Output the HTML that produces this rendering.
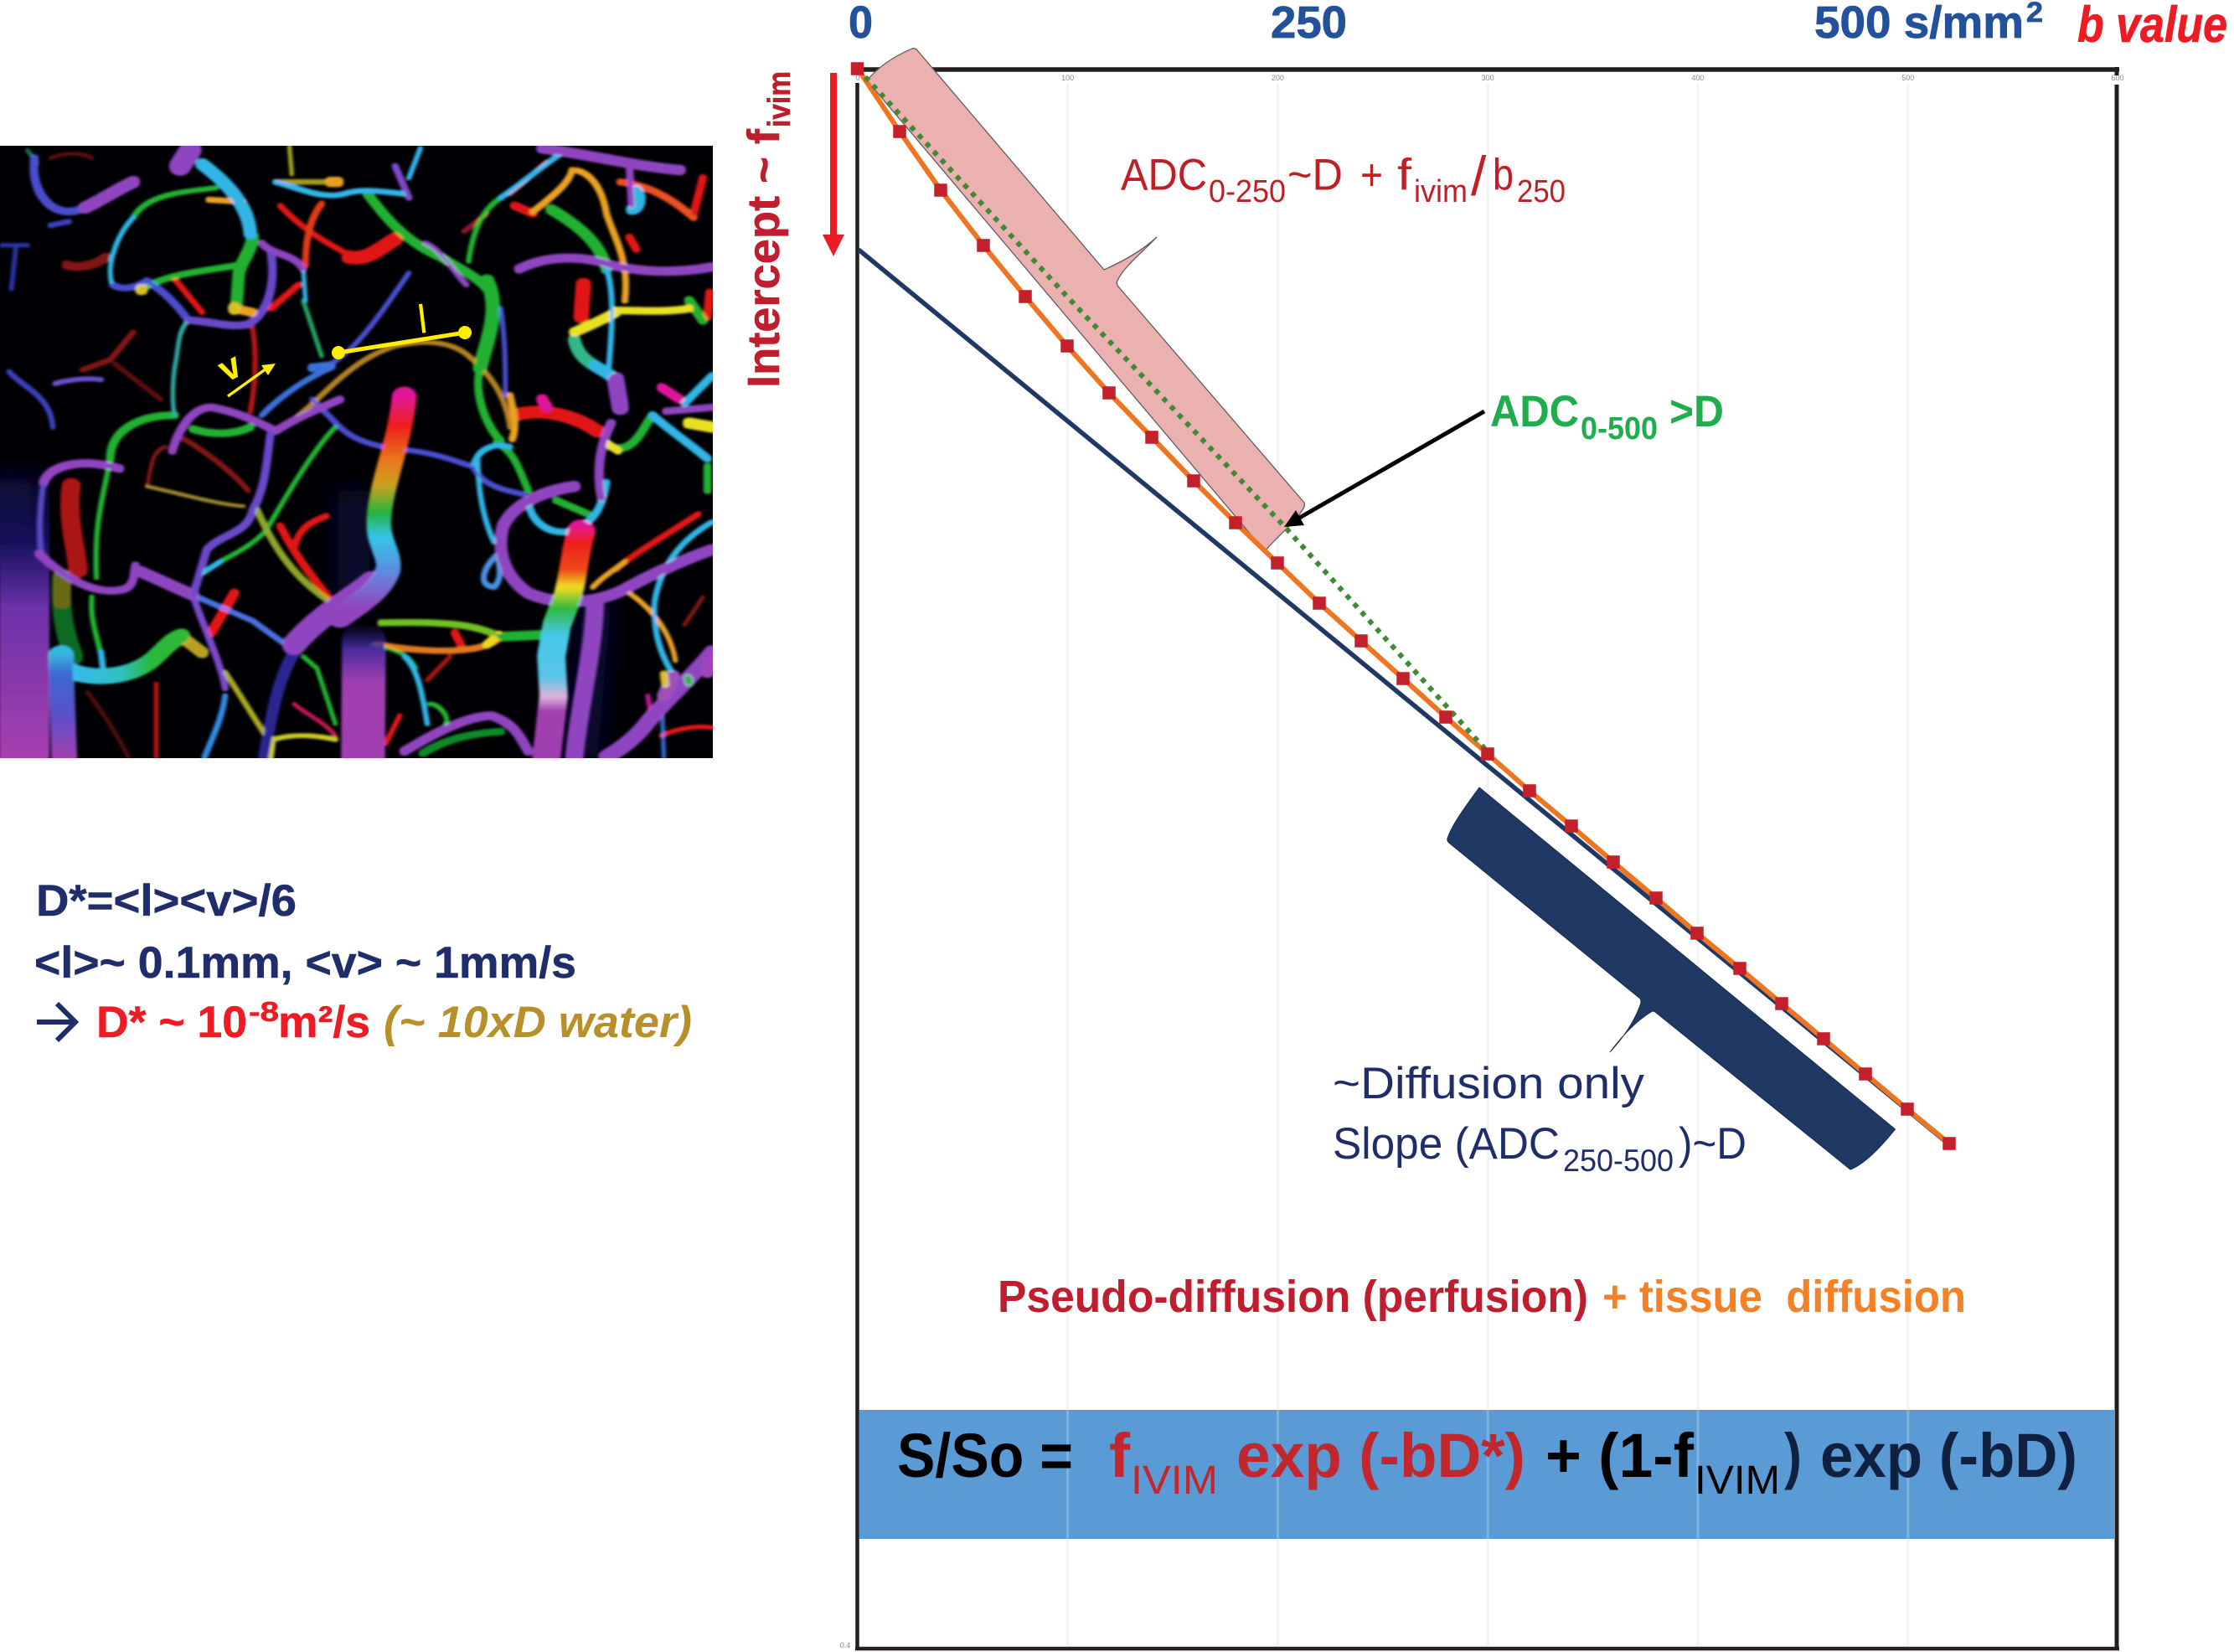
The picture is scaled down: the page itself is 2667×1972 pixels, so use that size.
<!DOCTYPE html>
<html><head><meta charset="utf-8"><style>
html,body{margin:0;padding:0;background:#fff}
svg{display:block}
text{font-family:"Liberation Sans",sans-serif}
</style></head><body>
<svg width="2667" height="1972" viewBox="0 0 2667 1972" xmlns="http://www.w3.org/2000/svg">
<defs>
<clipPath id="ic"><rect x="0" y="174" width="851" height="731"/></clipPath>
<filter id="bl" filterUnits="userSpaceOnUse" x="-20" y="-20" width="1640" height="1640"><feMorphology operator="dilate" radius="2.2"/><feGaussianBlur stdDeviation="2.8"/></filter>
<filter id="hz" filterUnits="userSpaceOnUse" x="-60" y="-60" width="1720" height="1720"><feGaussianBlur stdDeviation="26"/></filter>
<linearGradient id="lg" gradientUnits="userSpaceOnUse" x1="0" y1="800" x2="0" y2="1555"><stop offset="0" stop-color="#14105a" stop-opacity="0"/><stop offset=".28" stop-color="#14105a"/><stop offset=".5" stop-color="#6b31a8"/><stop offset="1" stop-color="#a63fae"/></linearGradient>
<linearGradient id="cv" gradientUnits="userSpaceOnUse" x1="0" y1="640" x2="0" y2="1270"><stop offset="0" stop-color="#e0189a"/><stop offset=".12" stop-color="#ee1c1c"/><stop offset=".26" stop-color="#e8751a"/><stop offset=".36" stop-color="#c8a020"/><stop offset=".47" stop-color="#22b33a"/><stop offset=".57" stop-color="#35c4e8"/><stop offset=".7" stop-color="#5a8ce0"/><stop offset=".85" stop-color="#9144bd"/><stop offset="1" stop-color="#9144bd"/></linearGradient>
<linearGradient id="rv" gradientUnits="userSpaceOnUse" x1="0" y1="965" x2="0" y2="1555"><stop offset="0" stop-color="#e0189a"/><stop offset=".08" stop-color="#ee1c1c"/><stop offset=".2" stop-color="#ee4a1c"/><stop offset=".27" stop-color="#f0d820"/><stop offset=".36" stop-color="#30b838"/><stop offset=".48" stop-color="#45c8e8"/><stop offset=".66" stop-color="#58c4e8"/><stop offset=".74" stop-color="#d8b0d8"/><stop offset=".8" stop-color="#a03fb0"/><stop offset="1" stop-color="#a03fb0"/></linearGradient>
<linearGradient id="lb" gradientUnits="userSpaceOnUse" x1="0" y1="1290" x2="0" y2="1555"><stop offset="0" stop-color="#35b8e0"/><stop offset=".2" stop-color="#3a68d0"/><stop offset=".6" stop-color="#5a50c8"/><stop offset="1" stop-color="#a03fb0"/></linearGradient>
<linearGradient id="bt" gradientUnits="userSpaceOnUse" x1="0" y1="1215" x2="0" y2="1555"><stop offset="0" stop-color="#1c1470" stop-opacity="0"/><stop offset=".2" stop-color="#4a2a9c"/><stop offset=".45" stop-color="#a03fb0"/><stop offset="1" stop-color="#a03fb0"/></linearGradient>
<linearGradient id="bc" gradientUnits="userSpaceOnUse" x1="150" y1="0" x2="400" y2="0"><stop offset="0" stop-color="#38b8f0"/><stop offset=".45" stop-color="#30c0c0"/><stop offset=".7" stop-color="#28b840"/><stop offset="1" stop-color="#30b830"/></linearGradient>
</defs>

<!-- microvessel picture -->
<rect x="0" y="174" width="851" height="731" fill="#000004"/>
<g clip-path="url(#ic)">
<g transform="translate(0,170) scale(.5485,.472)" fill="none">
<path d="M770,880 L770,1170" stroke="#0c0c48" stroke-width="70" stroke-opacity=".7" filter="url(#hz)"/>
<path d="M1300,1160 L1270,1555" stroke="#14105a" stroke-width="60" stroke-opacity=".7" filter="url(#hz)"/>
<path d="M20,850 L20,1100" stroke="#100c50" stroke-width="90" stroke-opacity=".6" filter="url(#hz)"/>
</g>
<g transform="translate(0,170) scale(.5485,.472)" fill="none" stroke-linecap="round" stroke-linejoin="round" filter="url(#bl)">
<rect x="0" y="800" width="106" height="760" fill="url(#lg)" stroke="none"/>
<!-- dim red -->
<g stroke="#801414">
<path d="M145,310 C170,320 210,310 230,290" stroke-width="18"/>
<path d="M290,480 L240,550 L180,575" stroke-width="9"/>
<path d="M250,560 L350,650" stroke-width="7" stroke="#5a1010"/>
<path d="M320,870 C330,820 330,780 360,770" stroke-width="5"/>
<path d="M400,750 C460,790 510,840 540,880" stroke-width="8"/>
<path d="M190,1390 C230,1450 260,1510 280,1555" stroke-width="5" stroke="#501010"/>
<path d="M110,40 C140,25 180,25 200,40" stroke-width="5" stroke="#5a1010"/>
<path d="M1490,1220 L1530,1150" stroke-width="5"/>
</g>
<path d="M320,870 C400,890 470,915 530,920" stroke="#9a8030" stroke-width="5"/>
<path d="M155,870 C145,950 165,1020 170,1080" stroke="#aa1616" stroke-width="38"/>
<path d="M135,1100 C130,1180 140,1240 160,1300" stroke="#0d6a20" stroke-width="38"/>
<path d="M135,1100 L135,1160" stroke="#6a6a18" stroke-width="34"/>
<!-- red vessels -->
<g stroke="#e01818">
<path d="M610,160 C650,210 700,250 770,290" stroke-width="9"/>
<path d="M760,290 C800,300 830,265 860,245" stroke-width="30"/>
<path d="M700,155 C670,200 665,260 665,310" stroke-width="11" stroke="#e03a18"/>
<path d="M380,345 L440,430" stroke-width="9"/>
<path d="M590,420 L650,360" stroke-width="11"/>
<path d="M550,470 C560,540 555,620 545,680" stroke-width="8" stroke="#b01818"/>
<path d="M610,970 C640,1040 680,1100 715,1150" stroke-width="13"/>
<path d="M640,1030 C650,970 680,960 710,945" stroke-width="11"/>
<path d="M510,1140 L460,1240" stroke-width="18"/>
<path d="M340,1370 L340,1555" stroke-width="7" stroke="#b01818"/>
<path d="M1120,690 C1180,670 1250,690 1300,730" stroke-width="28"/>
<path d="M1120,160 L1160,180" stroke-width="16"/>
<path d="M1270,360 L1265,440" stroke-width="30"/>
<path d="M1440,620 L1480,650" stroke-width="18" stroke="#e0189a"/>
<path d="M1545,380 L1540,440" stroke-width="16"/>
<path d="M1520,940 C1440,1000 1380,1040 1340,1080" stroke-width="10"/>
<path d="M1440,1500 C1480,1480 1520,1475 1550,1480" stroke-width="7"/>
<path d="M1410,1400 L1420,1470" stroke-width="7" stroke="#c0188a"/>
<path d="M930,1360 L980,1300" stroke-width="6" stroke="#a01818"/>
<path d="M870,1450 L840,1520" stroke-width="7"/>
<path d="M990,1240 L1005,1275" stroke-width="14"/>
<path d="M640,1420 C670,1450 700,1460 730,1500" stroke-width="5" stroke="#c01850"/>
<path d="M1350,100 C1420,110 1470,150 1510,190" stroke-width="13" stroke="#e85020"/>
<path d="M1530,90 L1510,180" stroke-width="14"/>
<path d="M1370,240 L1385,270" stroke-width="14"/>
<path d="M1180,650 L1190,670" stroke-width="22" stroke="#e0189a"/>
<path d="M1010,225 L1060,180" stroke-width="7" stroke="#901830"/>
<path d="M1110,130 L1190,50" stroke-width="8" stroke="#a01818"/>
</g>
<!-- orange / yellow thin -->
<g stroke="#e8a020">
<path d="M640,700 C700,650 760,550 860,515 C920,500 980,500 1020,540 C1070,590 1100,640 1110,720" stroke-width="8" stroke="#b08020"/>
<path d="M1110,640 C1120,690 1125,720 1115,750" stroke-width="12"/>
<path d="M455,145 L530,150" stroke-width="11"/>
<path d="M600,100 L730,100" stroke-width="10" stroke="#a09a20"/>
<path d="M720,100 L735,100" stroke-width="22"/>
<path d="M1160,175 C1210,130 1240,100 1245,70 C1280,70 1310,110 1320,180 C1340,250 1370,300 1360,400" stroke-width="11"/>
<path d="M1370,1140 C1420,1180 1460,1240 1470,1310" stroke-width="7"/>
<path d="M1290,1125 C1320,1090 1340,1080 1360,1060" stroke-width="8"/>
<path d="M1085,1255 C1050,1290 950,1295 820,1270" stroke-width="12" stroke="#e07820"/>
<path d="M1060,1270 L1085,1245" stroke-width="16" stroke="#e8d820"/>
<path d="M510,420 L550,430" stroke-width="18"/>
<path d="M395,1250 L440,1290" stroke-width="24" stroke="#b8a020"/>
<path d="M630,10 L635,80" stroke-width="6" stroke="#a0a020"/>
<path d="M490,1340 C530,1410 560,1470 590,1520" stroke-width="8" stroke="#a8a820"/>
<path d="M590,1555 L595,1510 C640,1495 690,1500 730,1510" stroke-width="8" stroke="#c8c820"/>
<path d="M560,930 C590,1010 630,1090 710,1155" stroke-width="11" stroke="#8ca428"/>
</g>
<!-- greens -->
<g stroke="#22b030">
<path d="M800,130 C840,190 880,250 960,290 C1000,320 1040,340 1060,370" stroke-width="18"/>
<path d="M1060,350 C1090,420 1060,500 1045,570" stroke-width="28"/>
<path d="M1045,570 C1030,640 1060,720 1090,755" stroke-width="14"/>
<path d="M550,240 C545,280 525,300 520,330 L515,410" stroke-width="24"/>
<path d="M470,115 C400,125 320,130 290,190" stroke-width="9"/>
<path d="M310,370 C370,330 450,325 520,310" stroke-width="12"/>
<path d="M240,800 C240,730 300,690 380,690" stroke-width="15"/>
<path d="M240,800 C225,900 205,950 210,1100" stroke-width="8"/>
<path d="M200,1150 C195,1220 220,1270 225,1330" stroke-width="8"/>
<path d="M420,725 C460,740 510,740 545,720" stroke-width="15"/>
<path d="M730,720 C680,780 620,900 580,980 C550,1020 510,1040 480,1060" stroke-width="7"/>
<path d="M1020,300 C1030,220 1050,170 1090,140" stroke-width="8"/>
<path d="M1200,170 C1260,210 1310,260 1320,320" stroke-width="22"/>
<path d="M1080,760 C1120,780 1130,830 1150,880" stroke-width="12"/>
<path d="M1210,905 L1280,940" stroke-width="13"/>
<path d="M1330,770 C1380,790 1400,720 1420,690" stroke-width="15"/>
<path d="M1540,820 L1540,880" stroke-width="14"/>
<path d="M1500,400 L1530,450" stroke-width="18"/>
<path d="M1190,1245 L1090,1250 C1040,1225 1000,1210 830,1215" stroke-width="13" stroke="#70c020"/>
<path d="M1190,1245 L1090,1250" stroke-width="20"/>
<path d="M660,1300 L690,1330 L730,1470" stroke-width="6"/>
<path d="M810,1270 C860,1280 890,1295 905,1330" stroke-width="6"/>
<path d="M935,1420 C960,1420 980,1460 970,1470" stroke-width="7"/>
<path d="M920,1545 C970,1510 1020,1495 1090,1490" stroke-width="14" stroke="#108a28"/>
<path d="M60,20 C70,40 90,50 75,60" stroke-width="5" stroke="#187050"/>
</g>
<!-- yellow -->
<g stroke="#e8e020">
<path d="M1340,425 C1400,425 1450,430 1500,420" stroke-width="15"/>
<path d="M1340,430 C1310,450 1270,470 1250,480" stroke-width="20"/>
<path d="M1500,710 L1550,720" stroke-width="24"/>
<path d="M1320,760 L1345,780" stroke-width="14"/>
</g>
<!-- cyans -->
<g stroke="#30b4e4">
<path d="M440,55 C480,90 540,150 545,230" stroke-width="26"/>
<path d="M290,190 C250,240 230,320 245,360" stroke-width="7"/>
<path d="M600,100 C650,115 700,145 750,130 C790,115 830,125 880,130" stroke-width="10"/>
<path d="M410,450 C385,480 390,520 380,570 C375,620 375,660 380,690" stroke-width="6" stroke="#30a8a0"/>
<path d="M660,400 L700,540" stroke-width="6" stroke="#28a060"/>
<path d="M660,320 L665,400" stroke-width="6"/>
<path d="M1090,140 C1140,100 1180,60 1225,25" stroke-width="9"/>
<path d="M1320,320 C1340,380 1330,500 1325,570" stroke-width="9"/>
<path d="M1250,500 C1260,550 1290,560 1330,590" stroke-width="24" stroke="#30b888"/>
<path d="M1295,565 L1330,590" stroke-width="24"/>
<path d="M1385,120 C1400,140 1390,170 1375,170" stroke-width="22"/>
<path d="M1420,690 C1460,730 1510,770 1540,800" stroke-width="15"/>
<path d="M1490,660 L1550,590" stroke-width="14"/>
<path d="M1030,820 C1040,770 1080,760 1110,770" stroke-width="10"/>
<path d="M1040,800 C1040,870 1050,950 1075,1010" stroke-width="8"/>
<path d="M1150,900 C1150,960 1200,1000 1250,980 C1290,960 1310,930 1320,860" stroke-width="13"/>
<path d="M1550,960 C1490,1000 1440,1060 1425,1160 C1420,1240 1440,1300 1465,1345" stroke-width="9"/>
<path d="M880,1300 C910,1330 920,1400 930,1470" stroke-width="8"/>
<path d="M440,1090 L480,1060" stroke-width="8"/>
<path d="M915,15 L890,90" stroke-width="7"/>
<path d="M220,1290 L225,1340" stroke-width="10"/>
<path d="M490,1400 C485,1450 465,1500 445,1555" stroke-width="9" stroke="#3088e0"/>
<path d="M1440,1400 L1445,1555" stroke-width="6" stroke="#3068c8"/>
</g>
<path d="M150,1335 C200,1360 280,1355 330,1310 C360,1280 370,1260 395,1250" stroke="url(#bc)" stroke-width="36"/>
<path d="M133,1300 L135,1400 L140,1555" stroke="url(#lb)" stroke-width="52"/>
<!-- blue / purple network -->
<g stroke="#4a4ecc">
<path d="M75,40 C70,90 80,130 110,160 C135,180 160,178 185,165" stroke-width="15"/>
<path d="M320,350 C355,375 385,410 410,450" stroke-width="13"/>
<path d="M245,360 C265,375 295,368 320,350" stroke-width="12"/>
<path d="M570,690 C620,630 680,590 720,570" stroke-width="9" stroke="#3a70d8"/>
<path d="M680,570 L720,565" stroke-width="18" stroke="#3a70d8"/>
<path d="M720,560 C780,520 830,430 890,330" stroke-width="7"/>
<path d="M680,650 L740,720 C780,765 850,775 900,780 C960,790 1000,810 1030,820" stroke-width="9"/>
<path d="M420,1145 L550,1210 L640,1285" stroke-width="9" stroke="#4a70e0"/>
<path d="M1030,820 C1050,870 1100,880 1140,890" stroke-width="9"/>
<path d="M1080,1045 C1050,1080 1040,1120 1075,1125 C1095,1105 1085,1070 1085,1050" stroke-width="9" stroke="#4a90e0"/>
<path d="M1090,420 C1100,500 1100,570 1100,640" stroke-width="7"/>
<path d="M20,580 C50,620 110,640 115,720" stroke-width="8" stroke="#3a40b8"/>
<path d="M120,610 C150,600 190,595 220,600" stroke-width="8" stroke="#6a50c8"/>
<path d="M5,260 L60,260 M35,260 L25,370" stroke-width="7" stroke="#2a30a0"/>
<path d="M110,210 L150,200" stroke-width="9" stroke="#3a40b8"/>
<path d="M640,1290 C600,1370 590,1460 575,1555" stroke-width="22" stroke="#2a2590"/>
</g>
<g stroke="#8f45c0">
<path d="M185,165 C215,150 245,125 290,100" stroke-width="26"/>
<path d="M392,60 L415,18" stroke-width="44"/>
<path d="M570,255 C590,285 640,280 660,320" stroke-width="13"/>
<path d="M590,280 C600,360 585,430 540,460 C500,470 450,450 410,450" stroke-width="15" stroke="#6a48c8"/>
<path d="M260,825 C190,800 110,810 95,860" stroke-width="17"/>
<path d="M95,860 C85,930 85,1000 90,1040" stroke-width="8" stroke="#5a48c8"/>
<path d="M85,1040 C130,1090 200,1150 270,1130 C295,1120 290,1090 295,1070" stroke-width="15"/>
<path d="M305,1085 L420,1145" stroke-width="24"/>
<path d="M420,1145 C440,1220 480,1310 490,1380" stroke-width="11" stroke="#7a48c8"/>
<path d="M375,780 C390,720 420,670 460,670 C510,680 550,700 600,730 C640,700 680,680 740,650" stroke-width="15"/>
<path d="M590,730 C580,800 580,870 550,930 C540,990 480,990 450,1030 C440,1070 430,1110 420,1145" stroke-width="14" stroke="#6a48c8"/>
<path d="M925,255 C960,270 990,330 1015,360" stroke-width="9"/>
<path d="M860,60 L890,140" stroke-width="11" stroke="#7a48c8"/>
<path d="M1180,15 C1280,30 1380,60 1480,70" stroke-width="22"/>
<path d="M1370,60 L1375,160" stroke-width="13"/>
<path d="M1130,320 C1200,280 1280,290 1330,310 C1400,330 1480,330 1550,315" stroke-width="19"/>
<path d="M1340,600 L1350,670" stroke-width="34"/>
<path d="M1330,710 C1300,780 1300,850 1310,900" stroke-width="17"/>
<path d="M1450,680 L1550,670" stroke-width="14"/>
<path d="M1250,870 C1190,880 1120,910 1095,970 C1080,1040 1100,1100 1150,1140 C1210,1170 1290,1170 1360,1130 C1420,1090 1500,1050 1550,1030" stroke-width="24"/>
<path d="M1550,1290 C1500,1360 1440,1420 1400,1480 C1370,1520 1340,1540 1320,1555" stroke-width="32"/>
<path d="M880,1540 C950,1490 1020,1450 1070,1450 C1120,1470 1130,1500 1150,1540" stroke-width="18"/>
<path d="M640,1270 C700,1190 770,1150 810,1110" stroke-width="48"/>
<path d="M1295,1170 C1290,1300 1260,1430 1250,1555" stroke-width="36"/>
</g>
<path d="M792,1260 L790,1600" stroke="url(#bt)" stroke-width="92"/>
<path d="M880,645 C870,760 830,860 825,950 C820,1010 850,1040 845,1080 C830,1130 790,1160 740,1200" stroke="url(#cv)" stroke-width="50"/>
<path d="M1265,985 C1250,1040 1250,1090 1235,1150 L1212,1220 L1200,1300 L1205,1400 L1185,1600" stroke="url(#rv)" stroke-width="58"/>
<path d="M1465,1350 L1445,1400" stroke="#a04fb8" stroke-width="26"/>
<path d="M1445,1345 L1448,1370" stroke="#d8c020" stroke-width="14"/>
<path d="M1497,1355 L1500,1365" stroke="#30b040" stroke-width="18"/>
<path d="M1540,1340 L1550,1300" stroke="#9f45b8" stroke-width="24"/>
<ellipse cx="510" cy="420" rx="12" ry="14" fill="#d8c020" stroke="none"/>
<ellipse cx="308" cy="372" rx="12" ry="12" fill="#d8c020" stroke="none"/>
</g>
<!-- annotations -->
<line x1="404" y1="421" x2="555" y2="397" stroke="#ffee00" stroke-width="5"/>
<circle cx="404" cy="421" r="8" fill="#ffee00"/><circle cx="555" cy="397" r="8" fill="#ffee00"/>
<text transform="translate(501,398) rotate(-7)" font-size="48" fill="#ffee00" textLength="6">l</text>
<line x1="272" y1="473" x2="318" y2="440" stroke="#ffee00" stroke-width="3.5"/>
<polygon points="329,434 312,436 320,448" fill="#ffee00"/>
<text transform="translate(270,457) rotate(-27)" font-size="44" font-weight="bold" fill="#ffee00">v</text>
</g>

<!-- left text -->
<g font-size="53" fill="#1f2d6b" stroke="#1f2d6b" stroke-width=".5" font-weight="bold">
<text x="43" y="1093" textLength="311" lengthAdjust="spacingAndGlyphs">D*=&lt;l&gt;&lt;v&gt;/6</text>
<text x="41" y="1167" textLength="647" lengthAdjust="spacingAndGlyphs">&lt;l&gt;~ 0.1mm, &lt;v&gt; ~ 1mm/s</text>
</g>
<path d="M44,1220 L88,1220 M68,1198 L90,1220 L68,1242" fill="none" stroke="#1f2d6b" stroke-width="6"/>
<g font-weight="bold" fill="#ed1c24" stroke="#ed1c24" stroke-width=".5">
<text x="115" y="1238" font-size="53" textLength="180" lengthAdjust="spacingAndGlyphs">D* ~ 10</text>
<text x="297" y="1219" font-size="33" textLength="36" lengthAdjust="spacingAndGlyphs">-8</text>
<text x="332" y="1238" font-size="53" textLength="110" lengthAdjust="spacingAndGlyphs">m²/s</text>
</g>
<text x="458" y="1238" font-size="53" font-weight="bold" font-style="italic" fill="#b8902a" textLength="368" lengthAdjust="spacingAndGlyphs">(~ 10xD water)</text>

<!-- grid -->
<g stroke="#f2f4f4" stroke-width="3">
<line x1="1274.6" y1="100" x2="1274.6" y2="1964"/><line x1="1525.4" y1="100" x2="1525.4" y2="1964"/><line x1="1776.2" y1="100" x2="1776.2" y2="1964"/><line x1="2027" y1="100" x2="2027" y2="1964"/><line x1="2277.8" y1="100" x2="2277.8" y2="1964"/>
</g>
<g font-size="9" fill="#8a8a8a" text-anchor="middle">
<text x="1024" y="96">0</text><text x="1274.6" y="96">100</text><text x="1525.4" y="96">200</text><text x="1776.2" y="96">300</text><text x="2027" y="96">400</text><text x="2277.8" y="96">500</text><text x="2528" y="96">600</text>
<text x="1009" y="1967">0.4</text>
</g>
<!-- band -->
<rect x="1026" y="1683" width="1498" height="154" fill="#5b9bd5"/>
<g stroke="#7fb1de" stroke-width="3">
<line x1="1274.6" y1="1683" x2="1274.6" y2="1837"/><line x1="1525.4" y1="1683" x2="1525.4" y2="1837"/><line x1="1776.2" y1="1683" x2="1776.2" y2="1837"/><line x1="2027" y1="1683" x2="2027" y2="1837"/><line x1="2277.8" y1="1683" x2="2277.8" y2="1837"/>
</g>
<!-- axes -->
<g stroke="#231f20" fill="none">
<line x1="1024" y1="83" x2="2530" y2="83" stroke-width="5.5"/>
<line x1="1023.5" y1="99" x2="1023.5" y2="1970" stroke-width="4.5"/>
<line x1="2527" y1="101" x2="2527" y2="1970" stroke-width="5"/>
<line x1="1021" y1="1968" x2="2530" y2="1968" stroke-width="4.5"/>
<line x1="2527" y1="80" x2="2527" y2="90" stroke-width="5"/>
</g>

<!-- callouts -->
<path d="M1035,96 C1050,78 1070,66 1089,58 Q1093,57 1095,60 L1318,322 C1345,310 1365,298 1381,283 C1362,303 1342,318 1334,335 Q1332,338 1335,342 L1557,600 Q1558,604 1556,607 C1545,625 1525,640 1510,658 Z" fill="#ebb0b0" stroke="#555" stroke-width="1.2"/>
<path d="M1766,940 C1748,965 1733,985 1728,1001 Q1727,1004 1731,1007 L1958,1192 Q1960,1195 1958,1200 C1950,1222 1938,1238 1922,1256 C1940,1232 1955,1218 1971,1208 Q1973,1206 1976,1208 L2209,1396 C2225,1390 2245,1370 2262.5,1348 Z" fill="#1f3864" stroke="#16294c" stroke-width="1"/>

<!-- lines -->
<line x1="1025" y1="298" x2="2322" y2="1362" stroke="#1f3864" stroke-width="5.5"/>
<polyline points="1024,82 1074,157 1123,227 1174,293 1224,354 1274,413 1324,469 1375,522 1425,574 1475,624 1525,672 1575,720 1625,765 1675,810 1726,856 1776,900 1826,944 1876,986 1926,1029 1977,1072 2026,1114 2077,1156 2127,1198 2177,1240 2227,1282 2277,1324 2327,1365" fill="none" stroke="#ee7622" stroke-width="6"/>
<polyline points="1024,82 1273,353 1533,628 1780,902" fill="none" stroke="#3f8a35" stroke-width="6" stroke-dasharray="6 7.4"/>
<g fill="#c4202b" stroke="#c4202b" stroke-width="1.5">
<rect x="1016.5" y="75" width="14" height="14"/><rect x="1067" y="150" width="14" height="14"/><rect x="1116" y="220" width="14" height="14"/><rect x="1167" y="286" width="14" height="14"/><rect x="1217" y="347" width="14" height="14"/><rect x="1267" y="406" width="14" height="14"/><rect x="1317" y="462" width="14" height="14"/><rect x="1368" y="515" width="14" height="14"/><rect x="1418" y="567" width="14" height="14"/><rect x="1468" y="617" width="14" height="14"/><rect x="1518" y="665" width="14" height="14"/><rect x="1568" y="713" width="14" height="14"/><rect x="1618" y="758" width="14" height="14"/><rect x="1668" y="803" width="14" height="14"/><rect x="1719" y="849" width="14" height="14"/><rect x="1769" y="893" width="14" height="14"/><rect x="1819" y="937" width="14" height="14"/><rect x="1869" y="979" width="14" height="14"/><rect x="1919" y="1022" width="14" height="14"/><rect x="1970" y="1065" width="14" height="14"/><rect x="2019" y="1107" width="14" height="14"/><rect x="2070" y="1149" width="14" height="14"/><rect x="2120" y="1191" width="14" height="14"/><rect x="2170" y="1233" width="14" height="14"/><rect x="2220" y="1275" width="14" height="14"/><rect x="2270" y="1317" width="14" height="14"/><rect x="2320" y="1358" width="14" height="14"/>
</g>

<!-- arrows -->
<line x1="1772" y1="491" x2="1548" y2="620" stroke="#000" stroke-width="5"/>
<polygon points="1533,629 1547,609 1557,627" fill="#000"/>
<line x1="995" y1="87" x2="995" y2="282" stroke="#ed1c24" stroke-width="8"/>
<polygon points="982,280 1008,280 995,306" fill="#ed1c24"/>

<!-- axis titles -->
<g font-weight="bold" fill="#23529b" stroke="#23529b" stroke-width=".8" font-size="54">
<text x="1013" y="45" textLength="29" lengthAdjust="spacingAndGlyphs">0</text>
<text x="1517" y="45" textLength="91" lengthAdjust="spacingAndGlyphs">250</text>
<text x="2166" y="45" textLength="250" lengthAdjust="spacingAndGlyphs">500 s/mm</text>
<text x="2419" y="26" font-size="34" textLength="20" lengthAdjust="spacingAndGlyphs">2</text>
</g>
<text x="2480" y="50" font-size="60" font-weight="bold" font-style="italic" fill="#ed1c24" stroke="#ed1c24" stroke-width=".8" textLength="179" lengthAdjust="spacingAndGlyphs">b value</text>

<!-- intercept label -->
<g font-weight="bold" fill="#be1e2d" stroke="#be1e2d" stroke-width=".6">
<text transform="translate(930,463) rotate(-90)" font-size="54" textLength="309" lengthAdjust="spacingAndGlyphs">Intercept ~ f</text>
<text transform="translate(943,152) rotate(-90)" font-size="38" textLength="67" lengthAdjust="spacingAndGlyphs">ivim</text>
</g>

<!-- ADC 0-250 -->
<g fill="#be2026">
<text x="1338" y="226.5" font-size="53" textLength="103" lengthAdjust="spacingAndGlyphs">ADC</text>
<text x="1443" y="241" font-size="38" textLength="92" lengthAdjust="spacingAndGlyphs">0-250</text>
<text x="1537" y="226.5" font-size="53" textLength="66" lengthAdjust="spacingAndGlyphs">~D</text>
<text x="1624" y="226.5" font-size="53" textLength="27" lengthAdjust="spacingAndGlyphs">+</text>
<text x="1668" y="226.5" font-size="53" textLength="17" lengthAdjust="spacingAndGlyphs">f</text>
<text x="1688" y="241" font-size="38" textLength="64" lengthAdjust="spacingAndGlyphs">ivim</text>
<text x="1756" y="233" font-size="66">/</text>
<text x="1782" y="226.5" font-size="53" textLength="25" lengthAdjust="spacingAndGlyphs">b</text>
<text x="1811" y="241" font-size="38" textLength="58" lengthAdjust="spacingAndGlyphs">250</text>
</g>
<!-- ADC 0-500 -->
<g font-weight="bold" fill="#1fad4e">
<text x="1779" y="509" font-size="53" textLength="106" lengthAdjust="spacingAndGlyphs">ADC</text>
<text x="1887" y="524" font-size="38" textLength="92" lengthAdjust="spacingAndGlyphs">0-500</text>
<text x="1993" y="509" font-size="53" textLength="65" lengthAdjust="spacingAndGlyphs">&gt;D</text>
</g>
<!-- diffusion only -->
<g fill="#1f2d6b">
<text x="1591" y="1311" font-size="53" textLength="372" lengthAdjust="spacingAndGlyphs">~Diffusion only</text>
<text x="1591" y="1383" font-size="53" textLength="271" lengthAdjust="spacingAndGlyphs">Slope (ADC</text>
<text x="1866" y="1398" font-size="37" textLength="132" lengthAdjust="spacingAndGlyphs">250-500</text>
<text x="2004" y="1383" font-size="53" textLength="81" lengthAdjust="spacingAndGlyphs">)~D</text>
</g>
<!-- pseudo diffusion -->
<g font-weight="bold" font-size="54">
<text x="1191" y="1566" fill="#be1e2d" textLength="705" lengthAdjust="spacingAndGlyphs">Pseudo-diffusion (perfusion)</text>
<text x="1913" y="1566" fill="#f58025" textLength="434" lengthAdjust="spacingAndGlyphs" xml:space="preserve">+ tissue  diffusion</text>
</g>
<!-- formula -->
<g font-weight="bold" font-size="74">
<text x="1071" y="1763" fill="#000" textLength="210" lengthAdjust="spacingAndGlyphs">S/So =</text>
<text x="1324" y="1763" fill="#c1272d" textLength="25" lengthAdjust="spacingAndGlyphs">f</text>
<text x="1350" y="1783" fill="#c1272d" font-size="48" font-weight="normal" textLength="104" lengthAdjust="spacingAndGlyphs">IVIM</text>
<text x="1476" y="1763" fill="#c1272d" textLength="345" lengthAdjust="spacingAndGlyphs">exp (-bD*)</text>
<text x="1845" y="1763" fill="#000" textLength="177" lengthAdjust="spacingAndGlyphs">+ (1-f</text>
<text x="2023" y="1783" fill="#000" font-size="48" font-weight="normal" textLength="102" lengthAdjust="spacingAndGlyphs">IVIM</text>
<text x="2130" y="1763" fill="#0f2040" textLength="21" lengthAdjust="spacingAndGlyphs">)</text>
<text x="2173" y="1763" fill="#0f2040" textLength="307" lengthAdjust="spacingAndGlyphs">exp (-bD)</text>
</g>
</svg>
</body></html>
